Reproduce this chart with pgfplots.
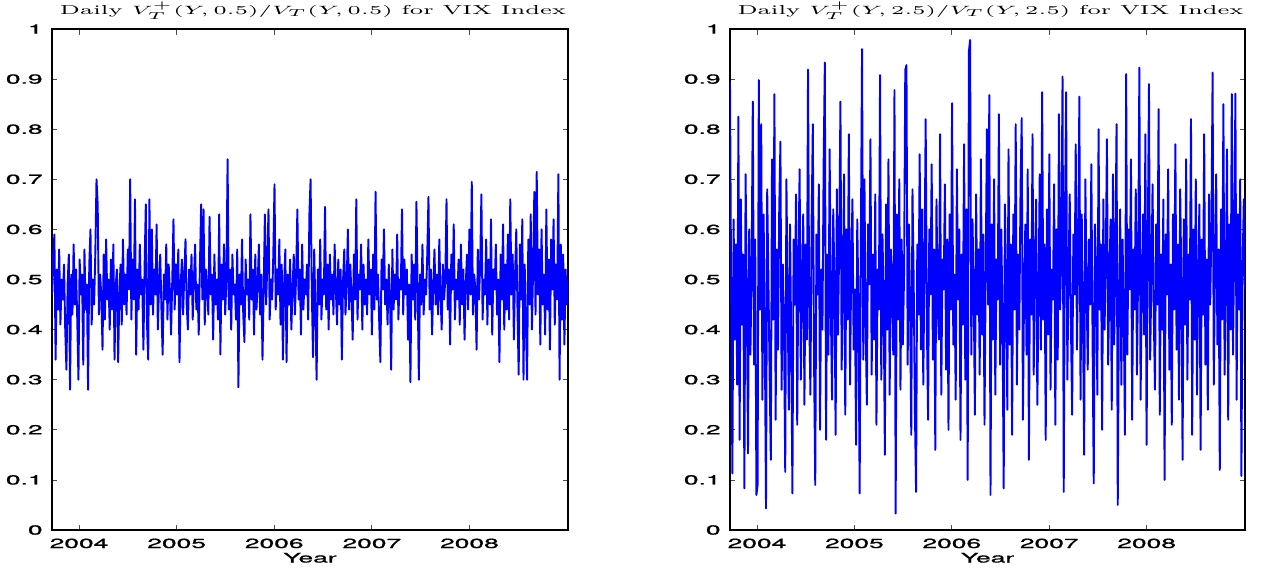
\documentclass[border=0pt]{standalone}
\usepackage{pgfplots}
\pgfplotsset{compat=1.18}
\usepackage{pgfplotstable}
\usepackage{graphicx}
\usepackage{fontspec}
\newfontfamily\helv[FakeBold=0.8]{TeX Gyre Heros}
\newcommand\hs[1]{\scalebox{2}[1]{#1}}
\newcommand\ths[1]{\scalebox{1.8}[1]{#1}}

% Daily V_T^+(Y,0.5)/V_T(Y,0.5) (one value per ~1.2 px)
\pgfplotstableread[row sep=\\,header=false]{
0.47\\0.55\\0.59\\0.34\\0.52\\0.44\\0.56\\0.41\\0.50\\0.46\\0.53\\0.40\\0.32\\0.49\\0.55\\0.28\\0.51\\0.43\\0.57\\0.45\\
0.52\\0.42\\0.30\\0.54\\0.47\\0.51\\0.33\\0.56\\0.44\\0.49\\0.28\\0.53\\0.60\\0.41\\0.50\\0.45\\0.55\\0.70\\0.65\\0.43\\
0.51\\0.47\\0.36\\0.55\\0.42\\0.58\\0.46\\0.50\\0.40\\0.54\\0.44\\0.57\\0.34\\0.49\\0.52\\0.335\\0.47\\0.53\\0.41\\0.58\\
0.45\\0.51\\0.43\\0.56\\0.48\\0.70\\0.42\\0.54\\0.46\\0.66\\0.35\\0.52\\0.44\\0.57\\0.47\\0.50\\0.36\\0.53\\0.65\\0.41\\
0.34\\0.66\\0.45\\0.60\\0.43\\0.52\\0.47\\0.61\\0.40\\0.49\\0.55\\0.44\\0.35\\0.51\\0.46\\0.57\\0.42\\0.53\\0.48\\0.39\\
0.50\\0.62\\0.44\\0.53\\0.47\\0.56\\0.335\\0.49\\0.54\\0.43\\0.51\\0.58\\0.45\\0.40\\0.52\\0.47\\0.55\\0.42\\0.50\\0.57\\
0.44\\0.49\\0.39\\0.53\\0.65\\0.46\\0.64\\0.41\\0.52\\0.48\\0.43\\0.625\\0.47\\0.51\\0.38\\0.55\\0.45\\0.50\\0.42\\0.63\\
0.35\\0.53\\0.46\\0.57\\0.43\\0.50\\0.74\\0.44\\0.52\\0.40\\0.55\\0.47\\0.49\\0.42\\0.56\\0.285\\0.51\\0.45\\0.58\\0.43\\
0.375\\0.54\\0.47\\0.50\\0.42\\0.63\\0.46\\0.52\\0.39\\0.55\\0.44\\0.49\\0.57\\0.43\\0.51\\0.34\\0.48\\0.63\\0.45\\0.53\\
0.64\\0.42\\0.50\\0.46\\0.55\\0.69\\0.44\\0.52\\0.47\\0.58\\0.41\\0.53\\0.34\\0.49\\0.56\\0.335\\0.51\\0.45\\0.54\\0.40\\
0.48\\0.55\\0.43\\0.51\\0.64\\0.46\\0.52\\0.39\\0.57\\0.44\\0.50\\0.47\\0.53\\0.42\\0.63\\0.70\\0.48\\0.345\\0.56\\0.44\\
0.30\\0.52\\0.45\\0.58\\0.42\\0.50\\0.47\\0.645\\0.44\\0.53\\0.40\\0.55\\0.46\\0.51\\0.43\\0.57\\0.48\\0.41\\0.54\\0.45\\
0.52\\0.34\\0.50\\0.56\\0.43\\0.49\\0.60\\0.44\\0.53\\0.47\\0.38\\0.55\\0.46\\0.66\\0.42\\0.51\\0.48\\0.57\\0.40\\0.53\\
0.45\\0.50\\0.43\\0.58\\0.47\\0.52\\0.39\\0.55\\0.44\\0.675\\0.46\\0.51\\0.42\\0.335\\0.54\\0.48\\0.60\\0.45\\0.50\\0.41\\
0.53\\0.47\\0.32\\0.56\\0.44\\0.51\\0.46\\0.59\\0.42\\0.50\\0.48\\0.64\\0.43\\0.54\\0.47\\0.52\\0.38\\0.49\\0.295\\0.55\\
0.46\\0.53\\0.42\\0.655\\0.48\\0.30\\0.51\\0.45\\0.57\\0.43\\0.50\\0.47\\0.55\\0.665\\0.44\\0.52\\0.39\\0.49\\0.56\\0.45\\
0.51\\0.43\\0.58\\0.47\\0.40\\0.53\\0.46\\0.50\\0.66\\0.44\\0.52\\0.37\\0.55\\0.48\\0.61\\0.42\\0.50\\0.46\\0.54\\0.41\\
0.57\\0.45\\0.52\\0.38\\0.49\\0.55\\0.44\\0.60\\0.47\\0.695\\0.43\\0.51\\0.48\\0.36\\0.56\\0.46\\0.53\\0.67\\0.42\\0.50\\
0.47\\0.58\\0.41\\0.54\\0.45\\0.62\\0.39\\0.52\\0.48\\0.57\\0.43\\0.50\\0.335\\0.55\\0.46\\0.61\\0.40\\0.53\\0.44\\0.59\\
0.42\\0.66\\0.47\\0.55\\0.38\\0.51\\0.60\\0.44\\0.31\\0.57\\0.46\\0.62\\0.30\\0.53\\0.41\\0.30\\0.58\\0.45\\0.63\\0.40\\
0.52\\0.675\\0.43\\0.715\\0.47\\0.56\\0.37\\0.60\\0.45\\0.51\\0.39\\0.64\\0.44\\0.54\\0.36\\0.58\\0.48\\0.62\\0.41\\0.53\\
0.46\\0.71\\0.30\\0.57\\0.42\\0.55\\0.37\\0.52\\0.45\\0.50\\
}\leftdata

% Daily V_T^+(Y,2.5)/V_T(Y,2.5)
\pgfplotstableread[row sep=\\,header=false]{
0.895\\0.45\\0.113\\0.62\\0.38\\0.57\\0.29\\0.825\\0.18\\0.66\\0.41\\0.55\\0.083\\0.71\\0.47\\0.153\\0.60\\0.35\\0.52\\0.855\\
0.33\\0.58\\0.07\\0.09\\0.898\\0.44\\0.81\\0.26\\0.63\\0.39\\0.043\\0.68\\0.50\\0.31\\0.14\\0.74\\0.42\\0.87\\0.22\\0.56\\
0.36\\0.64\\0.775\\0.28\\0.53\\0.40\\0.116\\0.70\\0.46\\0.24\\0.61\\0.37\\0.073\\0.58\\0.45\\0.67\\0.21\\0.54\\0.72\\0.30\\
0.49\\0.63\\0.25\\0.57\\0.38\\0.919\\0.43\\0.27\\0.62\\0.81\\0.34\\0.09\\0.59\\0.47\\0.69\\0.20\\0.52\\0.40\\0.73\\0.933\\
0.18\\0.55\\0.35\\0.76\\0.44\\0.26\\0.64\\0.50\\0.19\\0.68\\0.39\\0.58\\0.855\\0.32\\0.47\\0.71\\0.23\\0.60\\0.42\\0.79\\
0.29\\0.53\\0.66\\0.36\\0.48\\0.17\\0.62\\0.45\\0.073\\0.57\\0.96\\0.34\\0.70\\0.41\\0.25\\0.61\\0.49\\0.78\\0.31\\0.55\\
0.38\\0.67\\0.21\\0.52\\0.44\\0.908\\0.30\\0.59\\0.46\\0.15\\0.65\\0.40\\0.74\\0.27\\0.56\\0.48\\0.35\\0.878\\0.033\\0.63\\
0.42\\0.70\\0.28\\0.58\\0.37\\0.51\\0.918\\0.928\\0.33\\0.61\\0.45\\0.19\\0.68\\0.50\\0.24\\0.076\\0.57\\0.43\\0.75\\0.36\\
0.64\\0.29\\0.53\\0.82\\0.41\\0.22\\0.60\\0.47\\0.73\\0.34\\0.56\\0.16\\0.66\\0.45\\0.38\\0.79\\0.27\\0.54\\0.48\\0.69\\
0.32\\0.58\\0.20\\0.63\\0.44\\0.852\\0.37\\0.51\\0.26\\0.72\\0.46\\0.60\\0.18\\0.55\\0.41\\0.77\\0.30\\0.64\\0.10\\0.955\\
0.978\\0.35\\0.62\\0.48\\0.23\\0.67\\0.43\\0.56\\0.31\\0.74\\0.39\\0.59\\0.21\\0.52\\0.80\\0.45\\0.868\\0.07\\0.61\\0.38\\
0.70\\0.27\\0.54\\0.46\\0.83\\0.33\\0.60\\0.42\\0.083\\0.65\\0.50\\0.24\\0.76\\0.37\\0.57\\0.19\\0.63\\0.44\\0.81\\0.29\\
0.55\\0.40\\0.68\\0.822\\0.22\\0.48\\0.61\\0.35\\0.72\\0.14\\0.58\\0.43\\0.79\\0.31\\0.53\\0.66\\0.25\\0.47\\0.71\\0.36\\
0.874\\0.42\\0.57\\0.18\\0.64\\0.39\\0.75\\0.28\\0.52\\0.46\\0.69\\0.21\\0.60\\0.34\\0.83\\0.44\\0.56\\0.905\\0.076\\0.62\\
0.874\\0.30\\0.51\\0.67\\0.41\\0.23\\0.59\\0.47\\0.77\\0.36\\0.54\\0.865\\0.26\\0.63\\0.43\\0.15\\0.70\\0.49\\0.32\\0.58\\
0.45\\0.73\\0.38\\0.093\\0.61\\0.52\\0.27\\0.80\\0.44\\0.57\\0.20\\0.66\\0.40\\0.53\\0.78\\0.33\\0.49\\0.62\\0.24\\0.71\\
0.37\\0.55\\0.81\\0.05\\0.46\\0.64\\0.29\\0.58\\0.42\\0.19\\0.91\\0.35\\0.60\\0.48\\0.74\\0.22\\0.56\\0.44\\0.68\\0.31\\
0.52\\0.923\\0.26\\0.47\\0.63\\0.39\\0.79\\0.17\\0.57\\0.89\\0.34\\0.50\\0.69\\0.43\\0.28\\0.61\\0.45\\0.84\\0.23\\0.55\\
0.40\\0.66\\0.10\\0.59\\0.47\\0.72\\0.32\\0.53\\0.21\\0.63\\0.44\\0.77\\0.36\\0.57\\0.26\\0.68\\0.49\\0.14\\0.62\\0.41\\
0.74\\0.30\\0.55\\0.46\\0.82\\0.19\\0.60\\0.38\\0.70\\0.27\\0.51\\0.65\\0.16\\0.58\\0.43\\0.79\\0.33\\0.54\\0.24\\0.67\\
0.45\\0.60\\0.913\\0.29\\0.52\\0.71\\0.37\\0.56\\0.12\\0.64\\0.42\\0.85\\0.31\\0.49\\0.76\\0.22\\0.61\\0.40\\0.87\\0.35\\
0.57\\0.871\\0.26\\0.63\\0.44\\0.70\\0.108\\0.53\\0.66\\0.48\\
}\rightdata

\pgfplotsset{
  vixaxis/.style={
    scale only axis, width=258pt, height=250.5pt,
    xmin=2003.723, xmax=2009.01, ymin=0, ymax=1,
    xtick={2004,2005,2006,2007,2008},
    xticklabels={\hs{2004},\hs{2005},\hs{2006},\hs{2007},\hs{2008}},
    ytick={0,0.1,0.2,0.3,0.4,0.5,0.6,0.7,0.8,0.9,1},
    yticklabels={\hs{0},\hs{0.1},\hs{0.2},\hs{0.3},\hs{0.4},\hs{0.5},\hs{0.6},\hs{0.7},\hs{0.8},\hs{0.9},\hs{1}},
    tick align=inside, xtick pos=both, ytick pos=both,
    xticklabel pos=lower, yticklabel pos=left,
    major tick length=2.75pt,
    tick style={line width=0.4pt, black!70},
    axis line style={line width=0.6pt},
    ticklabel style={font=\helv\fontsize{6.6}{7}\selectfont},
    xticklabel style={anchor=base, inner sep=0pt, yshift=-9pt},
    yticklabel style={anchor=east, inner sep=0pt, xshift=-4.5pt},
    xlabel={\hs{Year}},
    xlabel style={font=\helv\fontsize{6.6}{7}\selectfont, at={(axis description cs:0.5,0)}, anchor=base, inner sep=0pt, yshift=-16.25pt},
    title style={font=\fontsize{6.5}{7}\selectfont, at={(axis description cs:0.5,1)}, anchor=base, inner sep=0pt, yshift=1.5pt, xshift=1.5pt},
  },
  vixline/.style={color=blue, mark=none, line width=0.95pt, line join=round},
}

\begin{document}
\begin{tikzpicture}
\useasboundingbox (0pt,0pt) rectangle (631.5pt,284.5pt);
\begin{axis}[vixaxis, at={(26pt,19.5pt)}, anchor=south west,
  title={\ths{Daily $V_T^{+}(Y,0.5)/V_T(Y,0.5)$ for VIX Index}}]
\addplot[vixline] table[x expr=2003.723+\coordindex*0.012324, y index=0] {\leftdata};
\end{axis}
\begin{axis}[vixaxis, at={(365pt,19.5pt)}, anchor=south west, width=257.5pt,
  title={\ths{Daily $V_T^{+}(Y,2.5)/V_T(Y,2.5)$ for VIX Index}}]
\addplot[vixline] table[x expr=2003.723+\coordindex*0.012324, y index=0] {\rightdata};
\end{axis}
\end{tikzpicture}
\end{document}
